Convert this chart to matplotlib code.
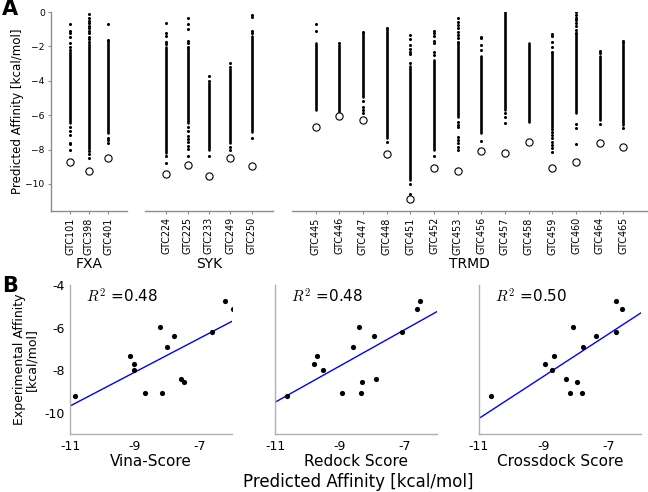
import matplotlib
matplotlib.use("Agg")
import matplotlib.pyplot as plt
import numpy as np

plt.rcParams['font.family'] = ['DejaVu Sans']
plt.rcParams['mathtext.fontset'] = 'cm'

# ---------------- Panel A data (predicted affinities of docked poses) ----------------
fxa_names = ["GTC101", "GTC398", "GTC401"]
fxa_dense = [(-2.34, -6.47), (-1.85, -7.95), (-1.68, -7.05)]
fxa_sparse = [
    [-0.72, -1.09, -1.24, -1.47, -1.78, -2.02, -2.21, -6.67, -6.90, -7.15, -7.60, -7.67, -8.02],
    [-0.12, -0.37, -0.50, -0.66, -0.81, -0.95, -1.09, -1.24, -1.44, -1.59, -1.72, -8.10, -8.25, -8.50],
    [-0.72, -1.63, -7.30, -7.44, -7.60],
]
fxa_best = [-8.70, -9.26, -8.51]

syk_names = ["GTC224", "GTC225", "GTC233", "GTC249", "GTC250"]
syk_dense = [(-2.02, -8.22), (-2.12, -6.47), (-4.11, -8.02), (-3.33, -7.64), (-1.40, -6.96)]
syk_sparse = [
    [-0.62, -1.24, -1.40, -1.74, -1.86, -8.37, -8.76],
    [-0.33, -0.70, -1.00, -1.67, -1.82, -2.02, -6.67, -6.90, -7.20, -7.40, -7.58, -7.77, -7.97, -8.37],
    [-3.72, -3.99, -8.35],
    [-2.98, -3.18, -7.83, -8.02],
    [-0.17, -0.27, -1.09, -1.24, -7.31],
]
syk_best = [-9.44, -8.87, -9.53, -8.51, -8.95]

trmd_names = ["GTC445", "GTC446", "GTC447", "GTC448", "GTC451", "GTC452", "GTC453",
              "GTC456", "GTC457", "GTC458", "GTC459", "GTC460", "GTC464", "GTC465"]
trmd_dense = [(-1.82, -5.70), (-1.92, -5.80), (-1.24, -4.92), (-1.00, -7.35), (-3.14, -9.77),
              (-2.79, -8.02), (-1.82, -6.09), (-2.56, -7.05), (-0.02, -5.70), (-1.82, -6.38),
              (-2.40, -6.67), (-1.24, -5.89), (-2.56, -6.28), (-1.92, -6.57)]
trmd_sparse = [
    [-0.70, -1.09],
    [-1.78],
    [-1.18, -5.17, -5.50, -5.70, -5.85],
    [-0.95, -7.54],
    [-1.34, -1.59, -1.92, -2.17, -2.31, -2.44, -2.95, -10.00, -10.58],
    [-1.09, -1.24, -1.40, -1.67, -1.82, -2.31, -2.50, -8.37],
    [-0.37, -0.57, -0.76, -0.95, -1.14, -1.34, -1.53, -1.72, -6.38, -6.57, -6.71, -7.25, -7.44, -7.64, -7.83, -8.02],
    [-1.43, -1.53, -1.92, -2.21, -7.48],
    [-5.90, -6.13, -6.48],
    [],
    [-1.30, -1.40, -1.73, -2.02, -2.31, -6.82, -6.96, -7.15, -7.35, -7.54, -7.73, -7.93, -8.12],
    [0.00, -0.19, -0.33, -0.49, -0.64, -0.84, -1.03, -1.22, -6.51, -6.76, -7.67],
    [-2.27, -2.40, -6.51],
    [-1.67, -1.82, -6.76],
]
trmd_best = [-6.71, -6.05, -6.28, -8.27, -10.89, -9.05, -9.22, -8.08, -8.22, -7.58, -9.09, -8.74, -7.64, -7.83]

a_yticks = [0, -2, -4, -6, -8, -10]

# ---------------- Panel B data ----------------
exp_aff = [-9.22, -7.32, -7.73, -8.00, -9.09, -5.97, -9.09, -6.91, -6.38, -8.41, -8.55, -6.23, -4.74, -5.13]
vina = [-10.86, -9.15, -9.02, -9.02, -8.67, -8.23, -8.15, -8.01, -7.78, -7.57, -7.49, -6.62, -6.21, -5.97]
redock = [-10.64, -9.71, -9.80, -9.53, -8.92, -8.42, -8.36, -8.59, -7.94, -7.89, -8.33, -7.09, -6.52, -6.63]
crossdock = [-10.63, -8.67, -8.95, -8.76, -8.18, -8.10, -7.81, -7.78, -7.39, -8.33, -7.98, -6.76, -6.78, -6.58]
b_titles = ["Vina-Score", "Redock Score", "Crossdock Score"]
b_r2 = ["0.48", "0.48", "0.50"]
b_xticks = [-11, -9, -7]
b_yticks = [-4, -6, -8, -10]

# ---------------- Figure ----------------
W, H = 648, 492
fig = plt.figure(figsize=(W / 100, H / 100), dpi=100)
SPINE = '#8c8c8c'

def px_axes(x0, y0, x1, y1):
    return fig.add_axes([x0 / W, 1 - y1 / H, (x1 - x0) / W, (y1 - y0) / H])

groups = [
    ("FXA", fxa_names, fxa_dense, fxa_sparse, fxa_best, (51, 127)),
    ("SYK", syk_names, syk_dense, syk_sparse, syk_best, (145, 273)),
    ("TRMD", trmd_names, trmd_dense, trmd_sparse, trmd_best, (292, 647)),
]
for gi, (gname, names, dense, sparse, best, (x0, x1)) in enumerate(groups):
    ax = px_axes(x0, 12, x1, 211)
    n = len(names)
    for i in range(n):
        lo, hi = dense[i][1], dense[i][0]
        ax.plot([i, i], [lo, hi], color='black', lw=1.9, solid_capstyle='round', zorder=2)
        if sparse[i]:
            ax.plot([i] * len(sparse[i]), sparse[i], 'o', color='black', ms=2.2, mew=0, zorder=2)
        ax.plot(i, best[i], 'o', mfc='white', mec='black', ms=5.2, mew=0.8, zorder=3)
    ax.set_xlim(-1, n)
    ax.set_ylim(-11.57, 0)
    ax.set_xticks(range(n))
    ax.set_xticklabels(names, rotation=90, fontsize=6.9)
    ax.set_xlabel(gname, fontsize=10, labelpad=2)
    for s in ['top', 'right']:
        ax.spines[s].set_visible(False)
    ax.spines['bottom'].set_color(SPINE)
    ax.spines['bottom'].set_linewidth(1.0)
    ax.tick_params(axis='x', length=2.5, color=SPINE, pad=2)
    if gi == 0:
        ax.spines['left'].set_color(SPINE)
        ax.spines['left'].set_linewidth(1.0)
        ax.set_yticks(a_yticks)
        ax.tick_params(axis='y', length=2.5, color=SPINE, labelsize=6.6, pad=2)
        ax.set_ylabel("Predicted Affinity [kcal/mol]", fontsize=8.6, labelpad=1)
    else:
        ax.spines['left'].set_visible(False)
        ax.set_yticks([])

fig.text(2 / W, 1 - 9 / H, "A", fontsize=15, fontweight='bold', va='center', ha='left')
fig.text(2 / W, 1 - 286 / H, "B", fontsize=15, fontweight='bold', va='center', ha='left')

b_x = [(70, 232), (275, 437), (479, 641)]
for bi, xs in enumerate([vina, redock, crossdock]):
    ax = px_axes(b_x[bi][0], 285, b_x[bi][1], 434)
    xa = np.array(xs)
    ya = np.array(exp_aff)
    ax.scatter(xa, ya, s=14, color='black', zorder=3, linewidths=0)
    m, c = np.polyfit(xa, ya, 1)
    xl = np.array([-11.0, -6.0])
    ax.plot(xl, m * xl + c, color='#0000ff', lw=1.0, zorder=2)
    ax.set_xlim(-11, -6)
    ax.set_ylim(-11, -4)
    for s in ['top', 'right']:
        ax.spines[s].set_visible(False)
    for s in ['left', 'bottom']:
        ax.spines[s].set_color('#b0b0b0')
        ax.spines[s].set_linewidth(1.0)
    ax.set_xticks(b_xticks)
    ax.set_xticklabels([str(v) for v in b_xticks], fontsize=9)
    ax.tick_params(length=0, pad=4)
    if bi == 0:
        ax.set_yticks(b_yticks)
        ax.set_yticklabels([str(v) for v in b_yticks], fontsize=9)
        ax.set_ylabel("Experimental Affinity\n[kcal/mol]", fontsize=9, labelpad=4, linespacing=1.0)
    else:
        ax.set_yticks([])
    ax.set_xlabel(b_titles[bi], fontsize=11, labelpad=1)
    ax.text(0.1, 0.925, r"$R^2$ =" + b_r2[bi], transform=ax.transAxes, fontsize=11,
            ha='left', va='center')

fig.text(358 / W, 1 - 482 / H, "Predicted Affinity [kcal/mol]", fontsize=12, ha='center', va='center')

fig.savefig("out.png", dpi=100)
